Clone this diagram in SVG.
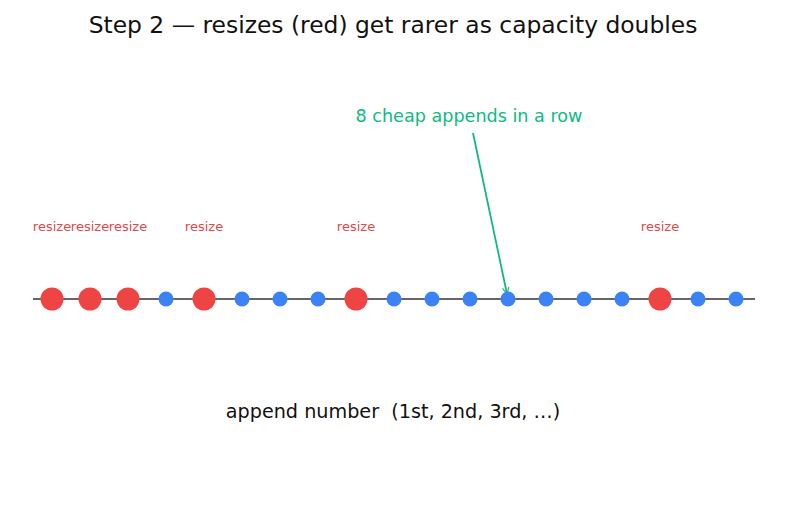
<svg xmlns="http://www.w3.org/2000/svg" width="787" height="510" viewBox="0 0 787 510">
<style>
text{font-family:"DejaVu Sans","Liberation Sans",sans-serif}
.title{font-size:23.4px;fill:#111;text-anchor:middle}
.lbl{font-size:13px;fill:#e2474c;text-anchor:middle}
.note{font-size:17.6px;fill:#10b981;text-anchor:middle}
.axis{font-size:19.2px;fill:#111;text-anchor:middle;white-space:pre}
.red{fill:#ef4444}
.blue{fill:#3b82f6}
</style>
<defs>
<marker id="ah" viewBox="0 0 10 10" refX="9" refY="5" markerWidth="8" markerHeight="8" orient="auto" markerUnits="userSpaceOnUse">
<path d="M1,1 L9,5 L1,9" fill="none" stroke="#10b981" stroke-width="1.5"/>
</marker>
</defs>
<rect width="787" height="510" fill="#fff"/>
<text class="title" x="393" y="33">Step 2 — resizes (red) get rarer as capacity doubles</text>
<g id="connectors">
<line x1="33" y1="299" x2="755" y2="299" stroke="#666" stroke-width="2"/>
<line x1="473" y1="133" x2="507" y2="294" stroke="#10b981" stroke-width="1.8" marker-end="url(#ah)"/>
</g>
<g id="labels">
<text class="lbl" x="52" y="231">resize</text>
<text class="lbl" x="90" y="231">resize</text>
<text class="lbl" x="128" y="231">resize</text>
<text class="lbl" x="204" y="231">resize</text>
<text class="lbl" x="356" y="231">resize</text>
<text class="lbl" x="660" y="231">resize</text>
</g>
<g id="n1"><circle class="red" cx="52" cy="299" r="11.5"/></g>
<g id="n2"><circle class="red" cx="90" cy="299" r="11.5"/></g>
<g id="n3"><circle class="red" cx="128" cy="299" r="11.5"/></g>
<g id="n4"><circle class="blue" cx="166" cy="299" r="7.5"/></g>
<g id="n5"><circle class="red" cx="204" cy="299" r="11.5"/></g>
<g id="n6"><circle class="blue" cx="242" cy="299" r="7.5"/></g>
<g id="n7"><circle class="blue" cx="280" cy="299" r="7.5"/></g>
<g id="n8"><circle class="blue" cx="318" cy="299" r="7.5"/></g>
<g id="n9"><circle class="red" cx="356" cy="299" r="11.5"/></g>
<g id="n10"><circle class="blue" cx="394" cy="299" r="7.5"/></g>
<g id="n11"><circle class="blue" cx="432" cy="299" r="7.5"/></g>
<g id="n12"><circle class="blue" cx="470" cy="299" r="7.5"/></g>
<g id="n13"><circle class="blue" cx="508" cy="299" r="7.5"/></g>
<g id="n14"><circle class="blue" cx="546" cy="299" r="7.5"/></g>
<g id="n15"><circle class="blue" cx="584" cy="299" r="7.5"/></g>
<g id="n16"><circle class="blue" cx="622" cy="299" r="7.5"/></g>
<g id="n17"><circle class="red" cx="660" cy="299" r="11.5"/></g>
<g id="n18"><circle class="blue" cx="698" cy="299" r="7.5"/></g>
<g id="n19"><circle class="blue" cx="736" cy="299" r="7.5"/></g>
<text class="note" x="469" y="122">8 cheap appends in a row</text>
<text class="axis" x="393" y="418" xml:space="preserve">append number  (1st, 2nd, 3rd, …)</text>
</svg>
